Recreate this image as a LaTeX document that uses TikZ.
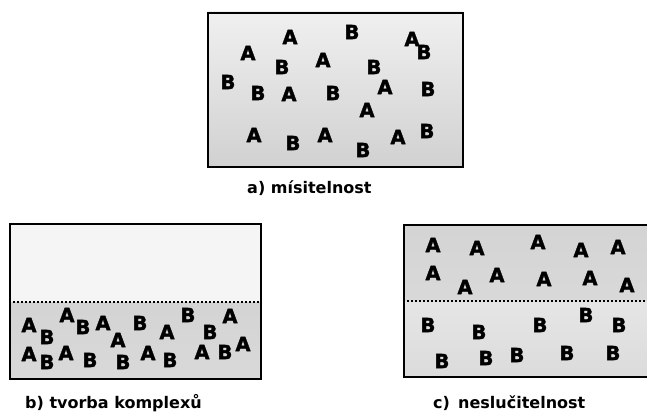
\documentclass[tikz,border=0pt]{standalone}
\usepackage{fontspec}
\setmainfont{DejaVu Sans}
\newfontfamily\heavyfont{DejaVu Sans}[BoldFeatures={FakeBold=1.6}]
\begin{document}
\begin{tikzpicture}[x=1pt,y=-1pt,
  letter/.style={font=\heavyfont\fontsize{19.5}{19.5}\selectfont\bfseries, inner sep=0pt},
  caption/.style={font=\fontsize{16}{18}\selectfont\bfseries, inner sep=0pt, anchor=west},
  frame/.style={draw=black, line width=1.8pt},
  sep/.style={draw=black, line width=2pt, dash pattern=on 2pt off 2pt}]
\useasboundingbox (0,0) rectangle (647,414);
% ---- box a
\shade[top color=gray!12, bottom color=gray!36] (207,12) rectangle (462,166);
\node[frame, minimum width=255pt, minimum height=154pt, anchor=north west, inner sep=0pt] (boxa) at (207,12) {};
\foreach \x/\y/\t [count=\i] in {290/37/A,352/32/B,412/39/A,424/52/B,248/53/A,282/67/B,323/60/A,374/67/B,
  228/82/B,258/93/B,289/94/A,333/93/B,385/87/A,428/89/B,367/110/A,
  254/135/A,293/143/B,325/135/A,363/150/B,398/137/A,427/131/B}
  \node[letter] (la\i) at (\x,\y) {\t};
\node[caption] (capa) at (247,188) {a) mísitelnost};
% ---- box b
\fill[gray!8] (9,223) rectangle (260,302);
\shade[top color=gray!34, bottom color=gray!30] (9,302) rectangle (260,378);
\node[frame, minimum width=251pt, minimum height=155pt, anchor=north west, inner sep=0pt] (boxb) at (9,223) {};
\coordinate (bl) at (9,302);
\coordinate (br) at (260,302);
\draw[sep] (bl) -- (br);
\foreach \x/\y/\t [count=\i] in {29/325/A,67/315/A,47/337/B,83/327/B,103/323/A,118/340/A,140/323/B,167/332/A,188/315/B,210/332/B,230/316/A,
  29/354/A,47/362/B,66/353/A,90/360/B,123/362/B,148/353/A,170/360/B,202/352/A,225/352/B,243/344/A}
  \node[letter] (lb\i) at (\x,\y) {\t};
\node[caption] (capb) at (25,403) {b) tvorba komplexů};
% ---- box c
\shade[top color=gray!34, bottom color=gray!30] (403,224) rectangle (660,301);
\shade[top color=gray!20, bottom color=gray!28] (403,301) rectangle (660,376);
\node[frame, minimum width=257pt, minimum height=152pt, anchor=north west, inner sep=0pt] (boxc) at (403,224) {};
\coordinate (cl) at (403,301);
\coordinate (cr) at (660,301);
\draw[sep] (cl) -- (cr);
\foreach \x/\y/\t [count=\i] in {433/245/A,477/248/A,538/242/A,581/250/A,618/247/A,
  433/273/A,465/287/A,497/275/A,544/279/A,590/278/A,627/285/A,
  428/325/B,479/332/B,540/325/B,586/315/B,619/325/B,
  442/361/B,486/358/B,517/355/B,567/353/B,613/353/B}
  \node[letter] (lc\i) at (\x,\y) {\t};
\node[caption] (capc) at (433,403) {c)\, neslučitelnost};
\end{tikzpicture}
\end{document}
